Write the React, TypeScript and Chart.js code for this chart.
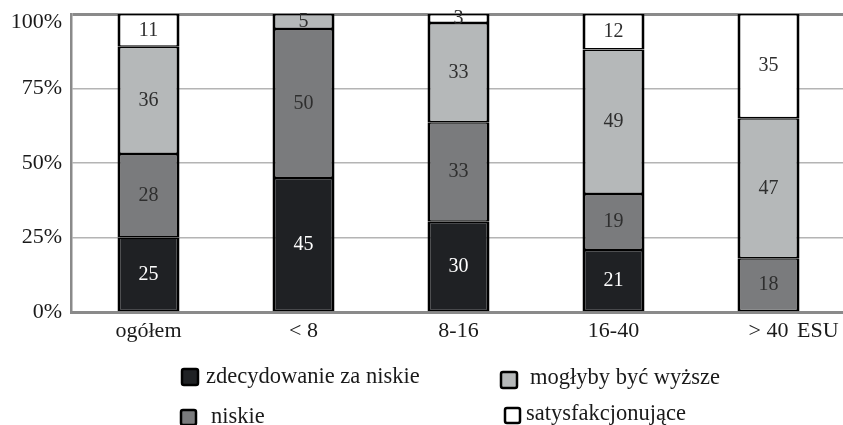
import React, { useEffect, useRef } from "react";
import { Chart, registerables } from "chart.js";

Chart.register(...registerables);

// Farm-size groups (ESU) and answer shares in percent
const categories = ["ogółem", "< 8", "8-16", "16-40", "> 40"];
const seriesNames = [
  "zdecydowanie za niskie",
  "niskie",
  "mogłyby być wyższe",
  "satysfakcjonujące",
];
const veryLow = [25, 45, 30, 21, 0];
const low = [28, 50, 33, 19, 18];
const couldBeHigher = [36, 5, 33, 49, 47];
const satisfying = [11, 0, 3, 12, 35];
const yTicks = [0, 25, 50, 75, 100];

const FONT = '"Liberation Serif", "Times New Roman", serif';
const fills = ["#1f2124", "#7a7b7d", "#b5b8b9", "#ffffff"];
const labelColors = ["#ffffff", "#2e2e2e", "#2e2e2e", "#2e2e2e"];

const rawSeries = [veryLow, low, couldBeHigher, satisfying];

// each column is drawn as a 100% stack
const totals = categories.map((_, i) =>
  rawSeries.reduce((s, arr) => s + arr[i], 0)
);
const shares = rawSeries.map((arr) =>
  arr.map((v, i) => (v === 0 ? null : (v / totals[i]) * 100))
);

// legend layout: two columns, filled top to bottom
const legendSlots = [
  { bx: 182, by: 369, bs: 16, tx: 206, ty: 383 },
  { bx: 181, by: 410, bs: 15, tx: 211, ty: 423 },
  { bx: 501, by: 372, bs: 16, tx: 530, ty: 384 },
  { bx: 505, by: 408, bs: 15, tx: 526, ty: 420 },
];

const valueLabels = {
  id: "valueLabels",
  afterDatasetsDraw(chart: any) {
    const ctx = chart.ctx;
    ctx.save();
    ctx.font = `20px ${FONT}`;
    ctx.textAlign = "center";
    ctx.textBaseline = "middle";
    chart.data.datasets.forEach((ds: any, di: number) => {
      const meta = chart.getDatasetMeta(di);
      meta.data.forEach((el: any, i: number) => {
        const v = rawSeries[di][i];
        if (!v) return;
        ctx.fillStyle = labelColors[di];
        ctx.fillText(String(v), el.x, (el.y + el.base) / 2);
      });
    });
    ctx.restore();
  },
};

const extras = {
  id: "extras",
  afterDraw(chart: any) {
    const ctx = chart.ctx;
    ctx.save();
    ctx.font = `22px ${FONT}`;
    ctx.fillStyle = "#1a1a1a";
    ctx.textBaseline = "middle";

    // top y label sits just inside the plot height
    const ys = chart.scales.y;
    const top = yTicks[yTicks.length - 1];
    ctx.textAlign = "right";
    ctx.fillText(`${top}%`, ys.right - 9, ys.getPixelForValue(top) + 8);

    // unit next to the last category
    ctx.textAlign = "left";
    const ly = chart.chartArea.bottom + 6 + 13.2;
    ctx.fillText("ESU", 797, ly);

    // legend
    ctx.font = `22.5px ${FONT}`;
    ctx.textBaseline = "alphabetic";
    chart.data.datasets.forEach((ds: any, di: number) => {
      const s = legendSlots[di];
      ctx.fillStyle = ds.backgroundColor;
      ctx.strokeStyle = "#000";
      ctx.lineWidth = 2.5;
      ctx.beginPath();
      ctx.roundRect(s.bx, s.by, s.bs, s.bs, 2);
      ctx.fill();
      ctx.stroke();
      ctx.fillStyle = "#1a1a1a";
      ctx.fillText(ds.label, s.tx, s.ty);
    });
    ctx.restore();
  },
};

export default function App() {
  const ref = useRef<HTMLCanvasElement>(null);

  useEffect(() => {
    if (!ref.current) return;
    const topTick = yTicks[yTicks.length - 1];
    const chart = new Chart(ref.current, {
      type: "bar",
      data: {
        labels: categories,
        datasets: shares.map((data, i) => ({
          label: seriesNames[i],
          data,
          backgroundColor: fills[i],
          borderColor: "#000",
          borderWidth: { top: 1.5, bottom: 1.5, left: 3, right: 3 },
          borderSkipped: false,
          categoryPercentage: 1,
          barPercentage: 0.4,
        })),
      },
      options: {
        responsive: false,
        animation: false,
        devicePixelRatio: 1,
        font: { family: FONT },
        layout: { padding: { left: 0, right: 0, top: 14, bottom: 0 } },
        plugins: {
          legend: { display: false },
          tooltip: { enabled: false },
        },
        scales: {
          x: {
            stacked: true,
            grid: { display: false, drawTicks: false },
            border: { display: true, color: "#8a8a8a", width: 3 },
            ticks: {
              color: "#1a1a1a",
              font: { family: FONT, size: 22 },
              padding: 6,
              maxRotation: 0,
            },
            afterFit(scale: any) {
              scale.height = 113;
            },
          },
          y: {
            stacked: true,
            min: 0,
            max: 100,
            afterBuildTicks(scale: any) {
              scale.ticks = yTicks.map((v) => ({ value: v }));
            },
            grid: {
              drawTicks: false,
              color: (c: any) =>
                c.tick && c.tick.value === 100
                  ? "#8a8a8a"
                  : c.tick && c.tick.value === 0
                  ? "rgba(0,0,0,0)"
                  : "#b4b4b4",
              lineWidth: (c: any) => (c.tick && c.tick.value === 100 ? 3 : 1.5),
            },
            border: { display: true, color: "#8a8a8a", width: 2.5 },
            ticks: {
              color: "#1a1a1a",
              font: { family: FONT, size: 22 },
              padding: 9,
              callback: (v: any) => (v === topTick ? "" : `${v}%`),
            },
            afterFit(scale: any) {
              scale.width = 71;
              scale.paddingTop = 0;
              scale.paddingBottom = 0;
            },
          },
        },
      },
      plugins: [valueLabels, extras],
    });
    return () => chart.destroy();
  }, []);

  return (
    <div
      style={{
        position: "fixed",
        left: 0,
        top: 0,
        width: 843,
        height: 425,
        overflow: "hidden",
        background: "#fff",
      }}
    >
      <canvas ref={ref} width={846} height={425} style={{ display: "block" }} />
    </div>
  );
}
